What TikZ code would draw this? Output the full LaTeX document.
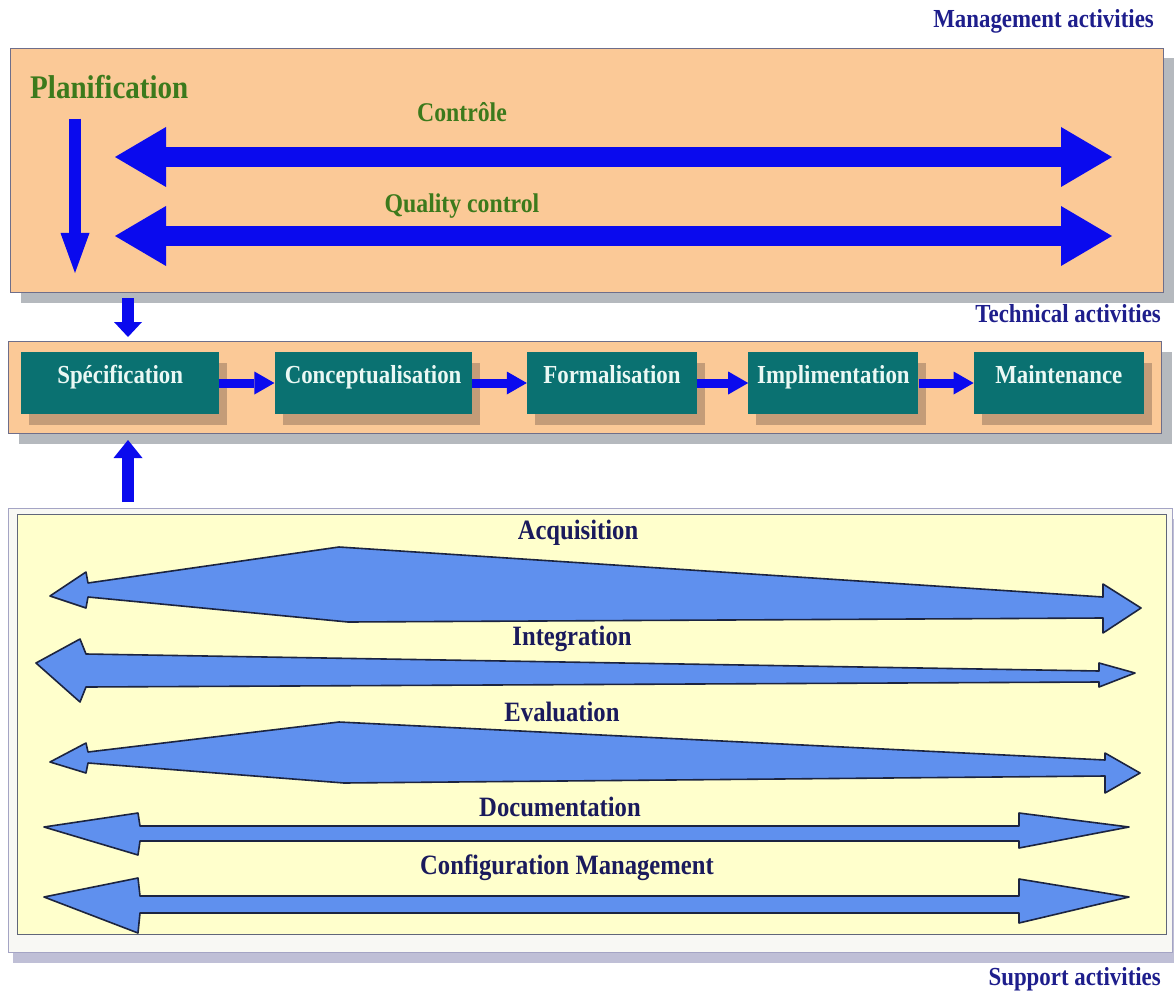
\documentclass[tikz,border=0pt]{standalone}
\usepackage{fontspec}
\setmainfont{Liberation Serif}[FakeStretch=0.88]
\usetikzlibrary{arrows.meta,positioning,shadows}
\definecolor{Peach}{HTML}{FBC997}
\definecolor{Cream}{HTML}{FFFFCC}
\definecolor{Frost}{HTML}{F8F8F4}
\definecolor{Frame}{HTML}{6E6E8A}
\definecolor{Lilac}{HTML}{A4A4C4}
\definecolor{Shade}{HTML}{B5B9BE}
\definecolor{StepShade}{HTML}{C49C78}
\definecolor{Teal}{HTML}{0A7171}
\definecolor{StepText}{HTML}{EAF8F4}
\definecolor{Navy}{HTML}{1E1E8C}
\definecolor{DeepNavy}{HTML}{1A1A5C}
\definecolor{Olive}{HTML}{3C7A1C}
\definecolor{Blue}{HTML}{0A0AEE}
\definecolor{Sky}{HTML}{5F90EE}
\definecolor{Edge}{HTML}{1C2440}
\tikzset{
  panel/.style={draw=Frame,line width=1pt,fill=Peach,anchor=north west,inner sep=0pt},
  panelshadow/.style={drop shadow={fill=Shade,opacity=1,shadow xshift=10pt,shadow yshift=-10pt}},
  stepbox/.style={fill=Teal,text=StepText,font=\fontsize{26}{26}\selectfont\bfseries,minimum height=62pt,text height=31pt,text depth=31pt,inner ysep=0pt,inner xsep=2pt,drop shadow={fill=StepShade,opacity=1,shadow xshift=8pt,shadow yshift=-11pt}},
  layerlabel/.style={text=Navy,font=\fontsize{26}{26}\selectfont\bfseries,anchor=base east,inner sep=0pt},
  mgmtlabel/.style={text=Olive,font=\fontsize{27}{27}\selectfont\bfseries,anchor=base,inner sep=0pt},
  supplabel/.style={text=DeepNavy,font=\fontsize{28}{28}\selectfont\bfseries,anchor=base,inner sep=0pt},
  flow/.style={draw=Blue,line width=9pt,-{Triangle[length=20pt,width=23pt,line width=0pt]}},
  vflow/.style={draw=Blue,line width=12pt,-{Triangle[length=15pt,width=28pt,line width=0pt]}},
  bigflow/.style={draw=Blue,line width=20pt,{Triangle[length=51pt,width=60pt,line width=0pt]}-{Triangle[length=51pt,width=60pt,line width=0pt]}},
  supparrow/.style={fill=Sky,draw=Edge,line width=1.6pt,line join=round}
}
\begin{document}
\begin{tikzpicture}[x=1pt,y=-1pt]
  \useasboundingbox (0,0) rectangle (1174,992);
  % the three layers
  \node[panel,panelshadow,minimum width=1153pt,minimum height=244pt] (mgmt) at (10,48) {};
  \node[panel,panelshadow,minimum width=1153pt,minimum height=92pt] (tech) at (8,341) {};
  \node[panel,fill=Frost,draw=Lilac,minimum width=1164pt,minimum height=444pt,
        drop shadow={fill=Lilac!70,opacity=1,shadow xshift=4pt,shadow yshift=-10pt}] (supp) at (8,508) {};
  \node[panel,fill=Cream,draw=Edge!70,minimum width=1149pt,minimum height=420pt] (suppin) at (17,514) {};

  \node[layerlabel] (mgmt-lbl) at (1154,28) {Management activities};
  \node[layerlabel] (tech-lbl) at (1161,322) {Technical activities};
  \node[layerlabel] (supp-lbl) at (1161,985) {Support activities};

  % management
  \node[mgmtlabel,font=\fontsize{33}{33}\selectfont\bfseries,anchor=base west] (plan) at (30,99) {Planification};
  \node[mgmtlabel] (ctl-lbl) at (462,122) {Contrôle};
  \node[mgmtlabel] (qc-lbl) at (462,213) {Quality control};
  \coordinate (plan-end) at (75,273);
  \draw[vflow,-{Triangle[length=40pt,width=29pt,line width=0pt]},shorten <=19pt] (plan.south -| plan-end) -- (plan-end);
  \coordinate (ctl-w) at (115,157);
  \coordinate (ctl-e) at (1112,157);
  \coordinate (qc-w) at (115,236);
  \coordinate (qc-e) at (1112,236);
  \draw[bigflow] (ctl-w) -- (ctl-e);
  \draw[bigflow] (qc-w) -- (qc-e);

  % technical steps
  \node[stepbox,minimum width=198pt,anchor=west] (spec) at (21,383) {Spécification};
  \node[stepbox,minimum width=197pt,right=55pt of spec] (concept) {Conceptualisation};
  \node[stepbox,minimum width=170pt,right=55pt of concept] (formal) {Formalisation};
  \node[stepbox,minimum width=170pt,right=51pt of formal] (impl) {Implimentation};
  \node[stepbox,minimum width=170pt,right=55pt of impl] (maint) {Maintenance};
  \foreach \a/\b in {spec/concept,concept/formal,formal/impl,impl/maint}
    \draw[flow] (\a) -- (\b);

  \coordinate (link) at (128,0);
  \draw[vflow,shorten <=5pt,shorten >=4pt] (mgmt.south -| link) -- (tech.north -| link);
  \draw[vflow,-{Triangle[length=18pt,width=29pt,line width=0pt]},shorten <=6pt,shorten >=6pt] (supp.north -| link) -- (tech.south -| link);

  % support activities
  \node[supplabel] (acq-lbl) at (578,539) {Acquisition};
  \node[supplabel] (int-lbl) at (572,645) {Integration};
  \node[supplabel] (eval-lbl) at (562,721) {Evaluation};
  \node[supplabel] (doc-lbl) at (560,816) {Documentation};
  \node[supplabel] (cfg-lbl) at (567,874) {Configuration Management};

  \draw[supparrow] (50,596) -- (86,572) -- (88,583) -- (339,547) -- (1103,597) -- (1103,584) -- (1141,608)
    -- (1103,633) -- (1103,618) -- (348,622) -- (88,597) -- (86,608) -- cycle;
  \draw[supparrow] (36,663) -- (80,639) -- (86,654) -- (1099,671) -- (1099,663) -- (1135,673)
    -- (1099,687) -- (1099,682) -- (86,687) -- (80,702) -- cycle;
  \draw[supparrow] (50,762) -- (86,743) -- (88,752) -- (339,722) -- (1105,760) -- (1105,753) -- (1140,773)
    -- (1105,793) -- (1105,776) -- (344,783) -- (88,763) -- (86,773) -- cycle;
  \draw[supparrow] (44,827) -- (138,813) -- (140,826) -- (1019,826) -- (1019,813) -- (1129,827)
    -- (1019,848) -- (1019,841) -- (140,841) -- (138,855) -- cycle;
  \draw[supparrow] (44,897) -- (138,878) -- (140,896) -- (1019,896) -- (1019,879) -- (1129,897)
    -- (1019,923) -- (1019,913) -- (140,913) -- (138,933) -- cycle;
\end{tikzpicture}
\end{document}
